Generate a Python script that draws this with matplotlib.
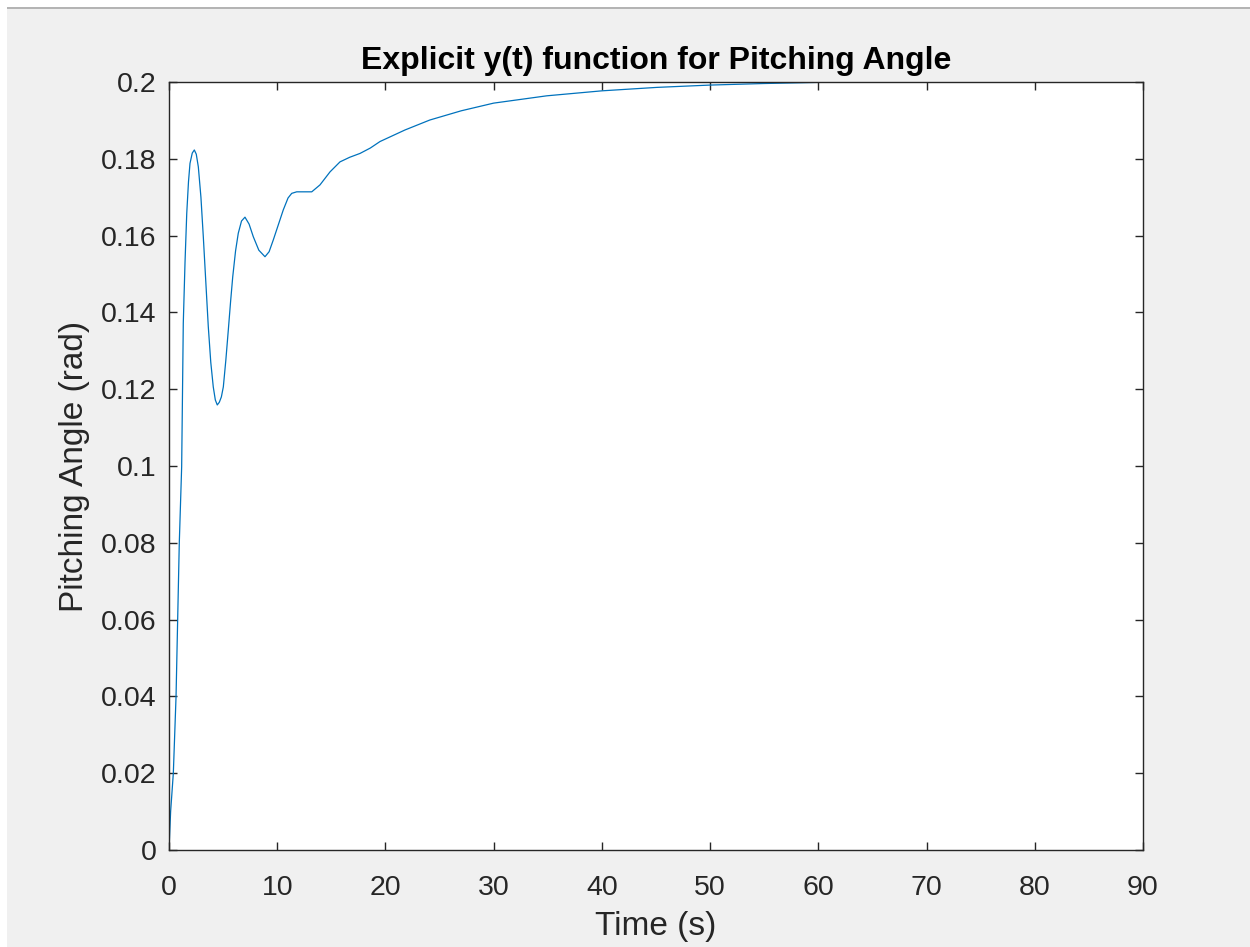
import numpy as np
import matplotlib.pyplot as plt
from matplotlib.patches import Rectangle

# step response of the pitch angle, sampled by hand
time_s = [0.0, 0.15, 0.40, 0.65, 0.80, 0.95, 1.17, 1.32, 1.48, 1.64, 1.80, 1.94,
          2.15, 2.34, 2.52, 2.71, 2.95, 3.17, 3.40, 3.63, 3.86, 4.09, 4.28, 4.46,
          4.65, 4.84, 5.02, 5.25, 5.48, 5.69, 5.89, 6.15, 6.40, 6.70, 7.02, 7.40,
          7.79, 8.30, 8.87, 9.25, 9.64, 10.10, 10.56, 11.00, 11.34, 11.80, 12.40,
          13.19, 13.95, 14.88, 15.80, 16.70, 17.65, 18.60, 19.50, 21.80, 24.10,
          27.00, 30.00, 34.90, 40.00, 45.10, 50.00, 54.90, 60.00, 70.00, 80.00, 90.00]
pitch_rad = [0.0, 0.010, 0.0200, 0.0399, 0.0599, 0.0799, 0.0998, 0.1372, 0.1530,
             0.1658, 0.1740, 0.1788, 0.1815, 0.1823, 0.1812, 0.1779, 0.1700, 0.1597,
             0.1480, 0.1363, 0.1270, 0.1206, 0.1172, 0.1159, 0.1166, 0.1180, 0.1206,
             0.1275, 0.1354, 0.1428, 0.1493, 0.1560, 0.1606, 0.1638, 0.1648, 0.1630,
             0.1597, 0.1562, 0.1545, 0.1558, 0.1589, 0.1628, 0.1667, 0.1698, 0.1710,
             0.1714, 0.1714, 0.1714, 0.1732, 0.1766, 0.1792, 0.1804, 0.1814, 0.1828,
             0.1845, 0.1875, 0.1901, 0.1925, 0.1945, 0.1964, 0.1977, 0.1986, 0.1992,
             0.1996, 0.1999, 0.2000, 0.2000, 0.2000]

x_ticks = [0, 10, 20, 30, 40, 50, 60, 70, 80, 90]
y_ticks = [0, 0.02, 0.04, 0.06, 0.08, 0.1, 0.12, 0.14, 0.16, 0.18, 0.2]
y_tick_labels = ['0', '0.02', '0.04', '0.06', '0.08', '0.1', '0.12', '0.14',
                 '0.16', '0.18', '0.2']

plt.rcParams['font.family'] = ['Liberation Sans', 'DejaVu Sans']

W, H = 1250, 947
fig = plt.figure(figsize=(W / 100, H / 100), dpi=100, facecolor='#f0f0f0')

# white window edge along top and left
fig.patches.append(Rectangle((0, 1 - 7 / H), 1, 7 / H, transform=fig.transFigure,
                             facecolor='white', edgecolor='none', zorder=0))
fig.patches.append(Rectangle((0, 1 - 9.5 / H), 1, 2.5 / H, transform=fig.transFigure,
                             facecolor='#b4b4b4', edgecolor='none', zorder=0))
fig.patches.append(Rectangle((0, 0), 7 / W, 1, transform=fig.transFigure,
                             facecolor='white', edgecolor='none', zorder=0))

ax = fig.add_axes([169 / W, (H - 850) / H, (1143 - 169) / W, (850 - 82) / H])
ax.plot(time_s, pitch_rad, color='#0072BD', linewidth=0.9)

ax.set_xlim(0, 90)
ax.set_ylim(0, 0.2)
ax.set_xticks(x_ticks)
ax.set_yticks(y_ticks)
ax.set_yticklabels(y_tick_labels)

dark = '#262626'
for side in ax.spines.values():
    side.set_color(dark)
    side.set_linewidth(1.0)
ax.tick_params(direction='in', length=6, width=1.0, colors=dark, labelsize=20.5,
               top=True, right=True)
ax.tick_params(axis='x', pad=18)
ax.tick_params(axis='y', pad=9)

ax.set_title('Explicit y(t) function for Pitching Angle', fontsize=23,
             fontweight='bold', color='black', pad=9)
ax.set_xlabel('Time (s)', fontsize=24, color=dark, labelpad=7)
ax.set_ylabel('Pitching Angle (rad)', fontsize=24, color=dark, labelpad=8)

fig.savefig('out.png', dpi=100, facecolor=fig.get_facecolor())
